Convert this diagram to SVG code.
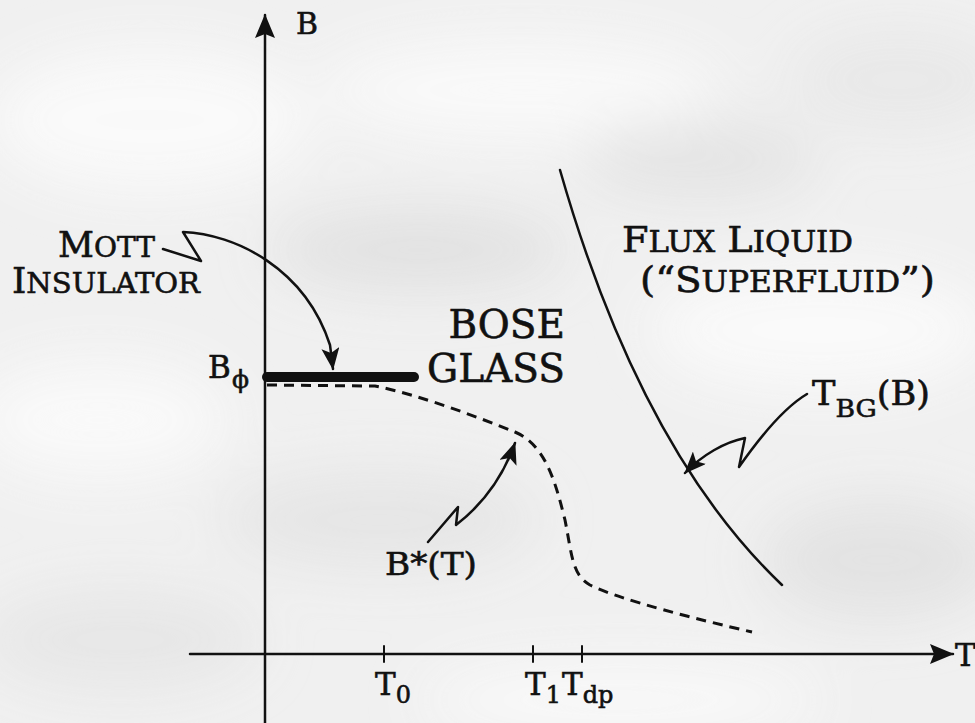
<svg xmlns="http://www.w3.org/2000/svg" width="975" height="723" viewBox="0 0 975 723">
<defs>
<style>
.t{font-family:"DejaVu Serif","Liberation Serif",serif;fill:#111;stroke:#111;stroke-width:0.6;}
.ln{fill:none;stroke:#111;stroke-linecap:round;stroke-linejoin:round;}
.dash{fill:none;stroke:#111;stroke-width:3;stroke-dasharray:10 7;}
</style>
<filter id="blur" x="-50%" y="-50%" width="200%" height="200%"><feGaussianBlur stdDeviation="28"/></filter>
<marker id="ah" viewBox="0 0 22 18" refX="21" refY="9" markerWidth="22" markerHeight="18" markerUnits="userSpaceOnUse" orient="auto">
<path d="M0,0 L22,9 L0,18 L5,9 z" fill="#111"/>
</marker>
<marker id="ax" viewBox="0 0 24 20" refX="23" refY="10" markerWidth="24" markerHeight="20" markerUnits="userSpaceOnUse" orient="auto">
<path d="M0,0 L24,10 L0,20 L4,10 z" fill="#111"/>
</marker>
</defs>
<g id="background">
<rect width="975" height="723" fill="#f0f0f0"/>
<g filter="url(#blur)" opacity="0.9">
<ellipse cx="150" cy="120" rx="160" ry="70" fill="#fbfbfb"/>
<ellipse cx="520" cy="90" rx="200" ry="50" fill="#fafafa"/>
<ellipse cx="820" cy="330" rx="170" ry="60" fill="#fbfbfb"/>
<ellipse cx="420" cy="250" rx="150" ry="40" fill="#e0e0e0"/>
<ellipse cx="700" cy="160" rx="120" ry="40" fill="#e3e3e3"/>
<ellipse cx="100" cy="420" rx="130" ry="60" fill="#fafafa"/>
<ellipse cx="380" cy="520" rx="160" ry="50" fill="#e5e5e5"/>
<ellipse cx="880" cy="560" rx="120" ry="60" fill="#e2e2e2"/>
<ellipse cx="620" cy="700" rx="200" ry="40" fill="#f9f9f9"/>
<ellipse cx="120" cy="640" rx="140" ry="50" fill="#e6e6e6"/>
<ellipse cx="900" cy="80" rx="110" ry="50" fill="#e8e8e8"/>
</g>
</g>
<g id="axes">
<path class="ln" d="M265,723 V15" stroke-width="2.5" marker-end="url(#ax)"/>
<path class="ln" d="M190,654 H953" stroke-width="2.5" marker-end="url(#ax)"/>
<path class="ln" d="M384,646 V662 M533,646 V662 M582,646 V662" stroke-width="2"/>
<text class="t" x="296" y="34" font-size="30">B</text>
<text class="t" x="955" y="666" font-size="31">T</text>
</g>
<g id="tick-labels">
<text class="t" x="375" y="695" font-size="31">T<tspan font-size="24" dy="8">0</tspan></text>
<text class="t" x="525" y="695" font-size="31">T<tspan font-size="24" dy="8">1</tspan></text>
<text class="t" x="562" y="695" font-size="31">T<tspan font-size="24" dy="8">dp</tspan></text>
</g>
<g id="mott-line">
<path class="ln" d="M267,377 H414" stroke-width="10"/>
<text class="t" x="208" y="378" font-size="31">B</text>
<text class="t" x="232" y="388" font-size="25">ϕ</text>
</g>
<g id="bstar-curve">
<path class="dash" d="M267,385 L375,386 C420,395 480,418 515,432 C545,445 555,480 565,520 C572,555 572,575 590,585 C620,600 700,620 752,632"/>
</g>
<g id="tbg-curve">
<path class="ln" d="M560,170 Q640,450 782,585" stroke-width="2.5"/>
</g>
<g id="label-mott">
<text class="t" x="58" y="257" font-size="35" textLength="97" lengthAdjust="spacingAndGlyphs">M<tspan font-size="28">OTT</tspan></text>
<text class="t" x="12" y="293" font-size="35" textLength="188" lengthAdjust="spacingAndGlyphs">I<tspan font-size="28">NSULATOR</tspan></text>
</g>
<g id="label-bose-glass">
<text class="t" x="565" y="338" font-size="39" text-anchor="end">BOSE</text>
<text class="t" x="565" y="382" font-size="39" text-anchor="end">GLASS</text>
</g>
<g id="label-flux-liquid">
<text class="t" x="622" y="252" font-size="36" textLength="231" lengthAdjust="spacingAndGlyphs">F<tspan font-size="29">LUX</tspan> L<tspan font-size="29">IQUID</tspan></text>
<text class="t" x="640" y="292" font-size="36" textLength="295" lengthAdjust="spacingAndGlyphs">(“S<tspan font-size="29">UPERFLUID</tspan>”)</text>
</g>
<g id="label-tbg">
<text class="t" x="812" y="405" font-size="33" textLength="118" lengthAdjust="spacingAndGlyphs">T<tspan font-size="25" dy="12">BG</tspan><tspan dy="-12">(B)</tspan></text>
</g>
<g id="label-bstar">
<text class="t" x="385" y="575" font-size="32" textLength="92" lengthAdjust="spacingAndGlyphs">B*(T)</text>
</g>
<g id="connectors">
<path class="ln" stroke-width="2.5" d="M163,249 L201,261 L183,232 C235,234 305,268 330,345 L333,369" marker-end="url(#ah)"/>
<path class="ln" stroke-width="2.5" d="M807,394 C785,407 760,437 739,467 L745,438 C725,442 702,455 685,473" marker-end="url(#ah)"/>
<path class="ln" stroke-width="2.5" d="M428,542 L458,507 L456,525 C482,505 502,480 515,443" marker-end="url(#ah)"/>
</g>
</svg>
